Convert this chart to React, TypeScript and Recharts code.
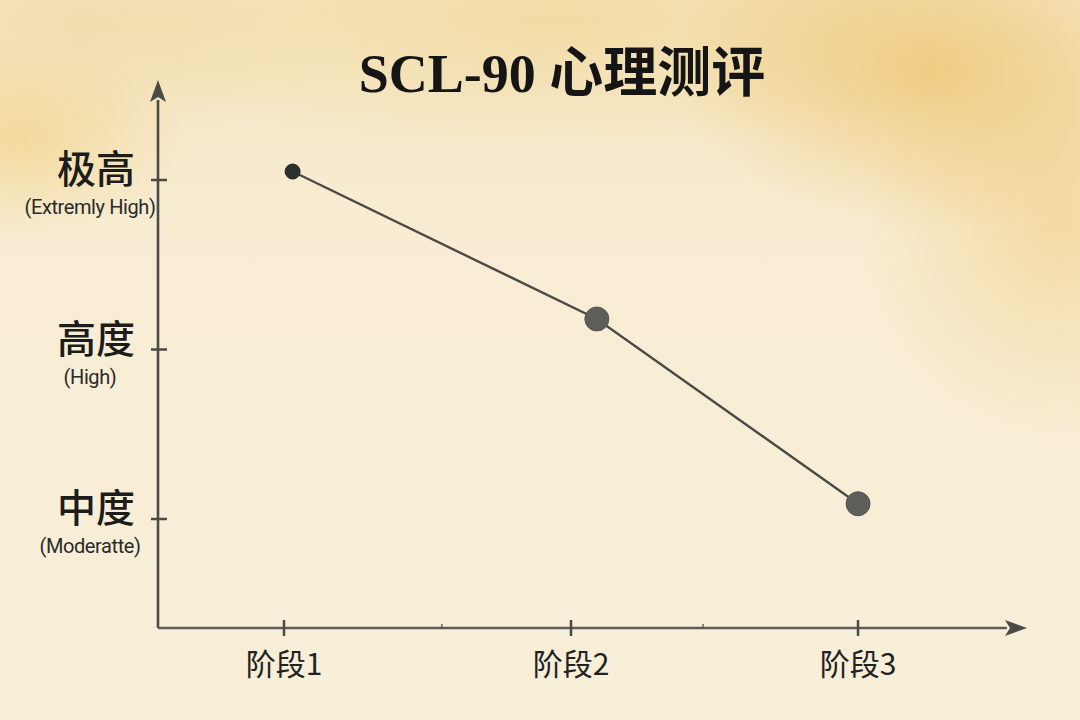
import React from "react";
import { LineChart, Line, XAxis, YAxis } from "recharts";

// Assessment stages (x position) and score level (1 = 中度, 2 = 高度, 3 = 极高)
const stageX = [1.03, 2.09, 3.0];
const levelValues = [3.05, 2.18, 1.09];

const xTickValues = [1, 2, 3];
const xTickLabels = ["阶段1", "阶段2", "阶段3"];
const xMinorTicks = [1.55, 2.46];

const yTickValues = [1, 2, 3];
const yTickLabelsZh = ["中度", "高度", "极高"];
const yTickLabelsEn = ["(Moderatte)", "(High)", "(Extremly High)"];

const data = stageX.map((x, i) => ({ x, level: levelValues[i] }));

const W = 1080;
const H = 720;

const CJK = '"Noto Sans CJK SC", "Noto Sans", sans-serif';

const XTick = (props: any) => {
  const { x, y, payload } = props;
  const idx = xTickValues.indexOf(payload.value);
  const major = idx >= 0;
  return (
    <g>
      <line
        x1={x}
        x2={x}
        y1={major ? y - 8 : y - 4}
        y2={major ? y + 8 : y}
        stroke="#4a4a47"
        strokeWidth={major ? 2.5 : 1.2}
      />
      {major && (
        <text
          x={x}
          y={y + 34}
          textAnchor="middle"
          dominantBaseline="central"
          fontFamily={CJK}
          fontSize={30}
          fill="#222"
        >
          {xTickLabels[idx]}
        </text>
      )}
    </g>
  );
};

const YTick = (props: any) => {
  const { x, y, payload } = props;
  const idx = yTickValues.indexOf(payload.value);
  if (idx < 0) return null;
  return (
    <g>
      <line x1={x - 7} x2={x + 9} y1={y} y2={y} stroke="#4a4a47" strokeWidth={2.5} />
      <text
        x={x - 62}
        y={y - 14}
        textAnchor="middle"
        dominantBaseline="central"
        fontFamily={CJK}
        fontWeight={500}
        fontSize={39}
        fill="#1c1c1c"
      >
        {yTickLabelsZh[idx]}
      </text>
      <text
        x={x - 68}
        y={y + 27}
        textAnchor="middle"
        dominantBaseline="central"
        fontFamily='Roboto, "Noto Sans", sans-serif'
        fontSize={20}
        letterSpacing={-0.4}
        fill="#2a2a2a"
      >
        {yTickLabelsEn[idx]}
      </text>
    </g>
  );
};

const Dot = (props: any) => {
  const { cx, cy, index } = props;
  const first = index === 0;
  return (
    <circle
      key={`dot-${index}`}
      cx={cx}
      cy={cy}
      r={first ? 7.5 : 12}
      fill={first ? "#2f2f2e" : "#5e5e5a"}
      stroke={first ? "#222" : "#55554f"}
      strokeWidth={1}
    />
  );
};

export default function App() {
  return (
    <div
      style={{
        position: "absolute",
        left: 0,
        top: 0,
        width: W,
        height: H,
        overflow: "hidden",
        background: [
          "radial-gradient(ellipse 260px 160px at 930px 70px, rgba(238,196,110,0.75), rgba(238,196,110,0) 100%)",
          "radial-gradient(ellipse 200px 220px at 1060px 220px, rgba(240,205,130,0.6), rgba(240,205,130,0) 100%)",
          "radial-gradient(ellipse 170px 100px at 20px 140px, rgba(240,206,120,0.55), rgba(240,206,120,0) 100%)",
          "radial-gradient(ellipse 520px 130px at 560px 20px, rgba(240,214,150,0.7), rgba(240,214,150,0) 100%)",
          "radial-gradient(ellipse 260px 120px at 80px 30px, rgba(238,214,160,0.6), rgba(238,214,160,0) 100%)",
          "linear-gradient(180deg, #f5e6c4 0%, #f8edd4 35%, #f8efd9 100%)",
        ].join(", "),
      }}
    >
      <div
        style={{
          position: "absolute",
          left: 0,
          top: 42,
          width: 1124,
          textAlign: "center",
          fontFamily: '"Liberation Serif", "Noto Sans CJK SC", serif',
          fontWeight: 700,
          fontSize: 54,
          lineHeight: "64px",
          color: "#151515",
        }}
      >
        SCL-90 心理测评
      </div>
      <LineChart
        width={W}
        height={H}
        data={data}
        margin={{ top: 100, right: 73, bottom: 62, left: 98 }}
        style={{ position: "absolute", left: 0, top: 0 }}
      >
        <defs>
          <marker
            id="axisArrow"
            viewBox="0 0 22 16"
            refX={2}
            refY={8}
            markerWidth={22}
            markerHeight={16}
            markerUnits="userSpaceOnUse"
            orient="auto-start-reverse"
          >
            <path d="M0,0 L22,8 L0,16 L5,8 z" fill="#4a4a47" />
          </marker>
        </defs>
        <XAxis
          type="number"
          dataKey="x"
          domain={[0.561, 3.519]}
          ticks={[...xTickValues, ...xMinorTicks]}
          tick={<XTick />}
          tickLine={false}
          tickSize={0}
          tickMargin={0}
          height={30}
          interval={0}
          allowDataOverflow
          axisLine={{ stroke: "#5e5e5a", strokeWidth: 2.6, markerEnd: "url(#axisArrow)" }}
        />
        <YAxis
          type="number"
          domain={[0.357, 3.472]}
          ticks={yTickValues}
          tick={<YTick />}
          tickLine={false}
          tickSize={0}
          tickMargin={0}
          width={60}
          interval={0}
          allowDataOverflow
          axisLine={{ stroke: "#4a4a47", strokeWidth: 2.6, markerStart: "url(#axisArrow)" }}
        />
        <Line
          type="linear"
          dataKey="level"
          stroke="#4a4a47"
          strokeWidth={2.4}
          dot={<Dot />}
          activeDot={false}
          isAnimationActive={false}
        />
      </LineChart>
    </div>
  );
}
